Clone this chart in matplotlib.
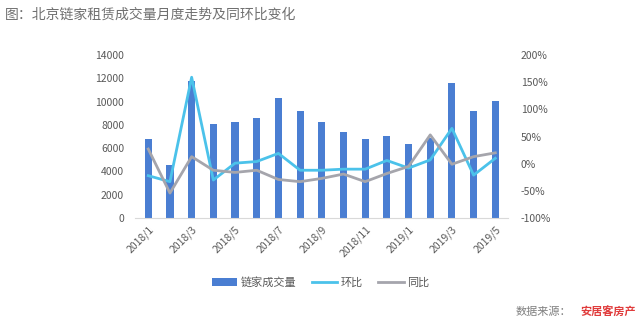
import matplotlib
matplotlib.use("Agg")
import matplotlib.pyplot as plt
import numpy as np

plt.rcParams['font.family'] = ['Noto Sans CJK SC', 'DejaVu Sans']

months = ["2018/1","2018/2","2018/3","2018/4","2018/5","2018/6","2018/7","2018/8","2018/9",
          "2018/10","2018/11","2018/12","2019/1","2019/2","2019/3","2019/4","2019/5"]
volume = [6800, 4550, 11800, 8100, 8270, 8620, 10280, 9220, 8270, 7430, 6780, 7040, 6380, 6900, 11570, 9220, 10050]
mom = [-22, -33, 159, -30, 1, 4, 19, -12, -12, -10, -10, 6, -8, 7, 65, -21, 10]
yoy = [27, -54, 13, -12, -16, -12, -29, -33, -27, -19, -33, -18, -5, 53, -1, 13, 20]

bar_c = "#4A7ED2"
mom_c = "#4BC2EA"
yoy_c = "#A5A5AC"
txt_c = "#595959"

fig = plt.figure(figsize=(6.41, 3.27), dpi=100)
ax = fig.add_axes([0.211, 0.333, 0.582, 0.499])
x = np.arange(len(months))
ax.bar(x, volume, width=0.33, color=bar_c, label="链家成交量", zorder=2)
ax.set_ylim(0, 14000)
ax.set_yticks(range(0, 14001, 2000))
ax.set_xlim(-0.6, len(months) - 0.4)
ax.set_xticks(x[::2])
ax.set_xticklabels(months[::2], rotation=45, ha='right', rotation_mode='anchor', color=txt_c, fontsize=7.5)
ax.tick_params(axis='y', length=0, labelsize=7.5, labelcolor=txt_c, pad=8)
ax.tick_params(axis='x', length=0, pad=4)
for s in ['top', 'right', 'left']:
    ax.spines[s].set_visible(False)
ax.spines['bottom'].set_color('#D9D9D9')

ax2 = ax.twinx()
ax2.plot(x, mom, color=mom_c, lw=2.0, label="环比", zorder=3)
ax2.plot(x, yoy, color=yoy_c, lw=2.0, label="同比", zorder=3)
ax2.set_ylim(-100, 200)
ax2.set_yticks(range(-100, 201, 50))
ax2.set_yticklabels([f"{v}%" for v in range(-100, 201, 50)])
ax2.tick_params(axis='y', length=0, labelsize=7.5, labelcolor=txt_c, pad=9)
for s in ['top', 'right', 'left', 'bottom']:
    ax2.spines[s].set_visible(False)

h1, l1 = ax.get_legend_handles_labels()
h2, l2 = ax2.get_legend_handles_labels()
fig.legend(h1 + h2, l1 + l2, loc='center', bbox_to_anchor=(0.5, 0.135), ncol=3, frameon=False,
           fontsize=8, labelcolor=txt_c, handlelength=2.3, handletextpad=0.3, columnspacing=1.4)

fig.text(0.008, 0.955, "图：北京链家租赁成交量月度走势及同环比变化", fontsize=10, color="#707070",
         va='center', ha='left', fontweight='medium')
fig.text(0.805, 0.045, "数据来源：", fontsize=8, color="#7F7F7F", va='center', ha='left')
fig.text(0.905, 0.045, "安居客房产", fontsize=8, color="#E03C3C", va='center', ha='left', fontweight='bold')

fig.savefig("out.png", dpi=100)
